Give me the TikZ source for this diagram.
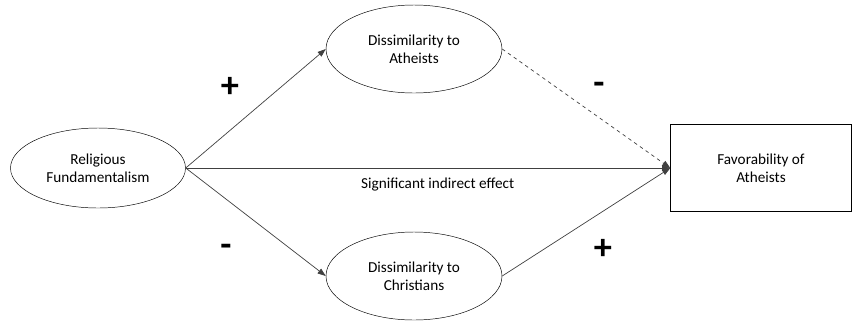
\documentclass[tikz,border=0pt]{standalone}
\usepackage{fontspec}
\setmainfont{Carlito}
\usetikzlibrary{arrows.meta,positioning,shapes.geometric}

\begin{document}
\begin{tikzpicture}[x=0.03cm, y=-0.03cm,
    oval/.style={draw, ellipse, align=center, font=\fontsize{13}{15}\selectfont, inner sep=0pt},
    box/.style={draw, rectangle, align=center, font=\fontsize{13}{15}\selectfont, minimum width=5.43cm, minimum height=2.6cm},
    sign/.style={font=\fontsize{31}{31}\selectfont\bfseries},
    arr/.style={-{Triangle[length=7pt, width=5pt]}, draw=black!75, semithick}
  ]
    \useasboundingbox (0,0) rectangle (854,322);
    \node[oval, minimum width=5.25cm, minimum height=2.4cm] (rf) at (98,168) {Religious\\Fundamentalism};
    \node[oval, minimum width=5.28cm, minimum height=2.64cm] (da) at (414,49) {Dissimilarity to\\Atheists};
    \node[oval, minimum width=5.28cm, minimum height=2.64cm] (dc) at (414,276) {Dissimilarity to\\Christians};
    \node[box] (fa) at (761,168) {Favorability of\\Atheists};
    \draw[arr] (rf.east) -- (da.west);
    \draw[arr] (rf.east) -- (dc.west);
    \draw[arr] (rf.east) -- (fa.west) node[pos=0.52, below=5pt, font=\fontsize{13}{15}\selectfont] (ind) {Significant indirect effect};
    \draw[arr, dashed] (da.east) -- (fa.west);
    \draw[arr] (dc.east) -- (fa.west);
    \node[sign] (p1) at (230,87) {+};
    \node[sign] (m1) at (226,250) {-};
    \node[sign] (m2) at (599,88) {-};
    \node[sign] (p2) at (603,249) {+};
  \end{tikzpicture}
\end{document}
